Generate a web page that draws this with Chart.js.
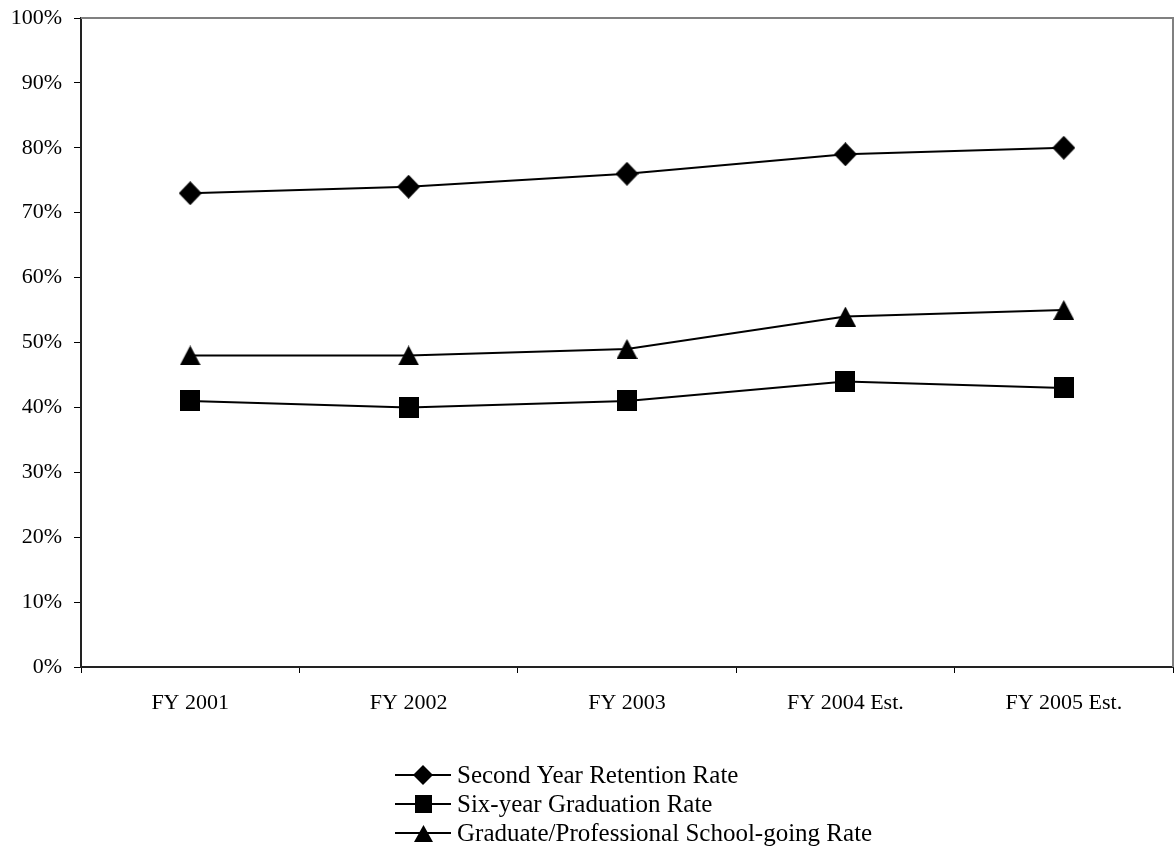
<!DOCTYPE html>
<html>
<head>
<meta charset="utf-8">
<script src="https://cdn.jsdelivr.net/npm/chart.js@4/dist/chart.umd.min.js"></script>
<style>
  html, body { margin: 0; padding: 0; background: #fff; }
  #wrap { width: 1174px; height: 859px; position: relative; }
</style>
</head>
<body>
<div id="wrap"><canvas id="c" width="1174" height="859"></canvas></div>
<script>
// Fiscal years on the x axis
const categories = ['FY 2001', 'FY 2002', 'FY 2003', 'FY 2004 Est.', 'FY 2005 Est.'];

// Rates in percent
const retentionRate = [73, 74, 76, 79, 80];
const graduationRate = [41, 40, 41, 44, 43];
const gradSchoolRate = [48, 48, 49, 54, 55];

const seriesNames = [
  'Second Year Retention Rate',
  'Six-year Graduation Rate',
  'Graduate/Professional School-going Rate'
];

const yTicks = { min: 0, max: 100, step: 10 };

const FONT = "'Liberation Serif', 'Times New Roman', serif";

// Solid black marker drawn into a small canvas so it sits centred on the point
function makeMarker(shape, w, h) {
  const c = document.createElement('canvas');
  c.width = w; c.height = h;
  const g = c.getContext('2d');
  g.fillStyle = '#000';
  g.beginPath();
  if (shape === 'diamond') {
    g.moveTo(w / 2, 0); g.lineTo(w, h / 2); g.lineTo(w / 2, h); g.lineTo(0, h / 2);
  } else if (shape === 'square') {
    g.rect(0, 0, w, h);
  } else {
    g.moveTo(w / 2, 0); g.lineTo(w, h); g.lineTo(0, h);
  }
  g.closePath();
  g.fill();
  return c;
}

const markers = [
  makeMarker('diamond', 23, 24),
  makeMarker('square', 20, 21),
  makeMarker('triangle', 21, 20)
];
const legendMarkers = [
  makeMarker('diamond', 20, 20),
  makeMarker('square', 17, 18),
  makeMarker('triangle', 19, 17)
];

const seriesValues = [retentionRate, graduationRate, gradSchoolRate];

// Gray frame on the top and right of the plot area
const frame = {
  id: 'frame',
  beforeDatasetsDraw(chart) {
    const { ctx, chartArea: a } = chart;
    ctx.save();
    ctx.strokeStyle = '#808080';
    ctx.lineWidth = 2;
    ctx.beginPath();
    ctx.moveTo(a.left, a.top);
    ctx.lineTo(a.right, a.top);
    ctx.lineTo(a.right, a.bottom);
    ctx.stroke();
    ctx.restore();
  }
};

// Stacked legend below the chart: line with marker, then label
const stackedLegend = {
  id: 'stackedLegend',
  afterDraw(chart) {
    const { ctx } = chart;
    ctx.save();
    ctx.font = '25px ' + FONT;
    ctx.fillStyle = '#000';
    ctx.textBaseline = 'middle';
    const lineLen = 56, gap = 6;
    const x0 = 395;
    const rowY = [775, 804, 833];
    seriesNames.forEach((name, i) => {
      const y = rowY[i];
      ctx.strokeStyle = '#000';
      ctx.lineWidth = 2;
      ctx.beginPath();
      ctx.moveTo(x0, y);
      ctx.lineTo(x0 + lineLen, y);
      ctx.stroke();
      const m = legendMarkers[i];
      ctx.drawImage(m, Math.round(x0 + lineLen / 2 - m.width / 2), Math.round(y - m.height / 2));
      ctx.fillText(name, x0 + lineLen + gap, y + 1);
    });
    ctx.restore();
  }
};

function noScalePadding(scale) {
  scale.paddingTop = 0;
  scale.paddingBottom = 0;
  scale.paddingLeft = 0;
  scale.paddingRight = 0;
}

new Chart(document.getElementById('c'), {
  type: 'line',
  data: {
    labels: categories,
    datasets: seriesValues.map((vals, i) => ({
      label: seriesNames[i],
      data: vals,
      borderColor: '#000',
      backgroundColor: '#000',
      borderWidth: 2,
      pointStyle: markers[i],
      pointRadius: 12,
      pointHoverRadius: 12,
      tension: 0,
      fill: false,
      clip: false
    }))
  },
  options: {
    responsive: false,
    animation: false,
    events: [],
    layout: { autoPadding: false, padding: { top: 18, right: 1, bottom: 132, left: 0 } },
    plugins: {
      legend: { display: false },
      tooltip: { enabled: false }
    },
    scales: {
      x: {
        offset: true,
        grid: {
          offset: true,
          drawOnChartArea: false,
          drawTicks: true,
          tickLength: 6,
          tickWidth: 1,
          tickColor: '#000'
        },
        border: { display: true, color: '#222', width: 2 },
        ticks: {
          color: '#000',
          font: { family: FONT, size: 22 },
          padding: 17,
          maxRotation: 0,
          autoSkip: false
        },
        afterFit(scale) { scale.height = 60; noScalePadding(scale); }
      },
      y: {
        min: yTicks.min,
        max: yTicks.max,
        grid: {
          drawOnChartArea: false,
          drawTicks: true,
          tickLength: 7,
          tickWidth: 1,
          tickColor: '#000'
        },
        border: { display: true, color: '#222', width: 2 },
        ticks: {
          stepSize: yTicks.step,
          color: '#000',
          font: { family: FONT, size: 22 },
          padding: 12,
          callback: v => v + '%'
        },
        afterFit(scale) { scale.width = 81; noScalePadding(scale); }
      }
    }
  },
  plugins: [frame, stackedLegend]
});
</script>
</body>
</html>
